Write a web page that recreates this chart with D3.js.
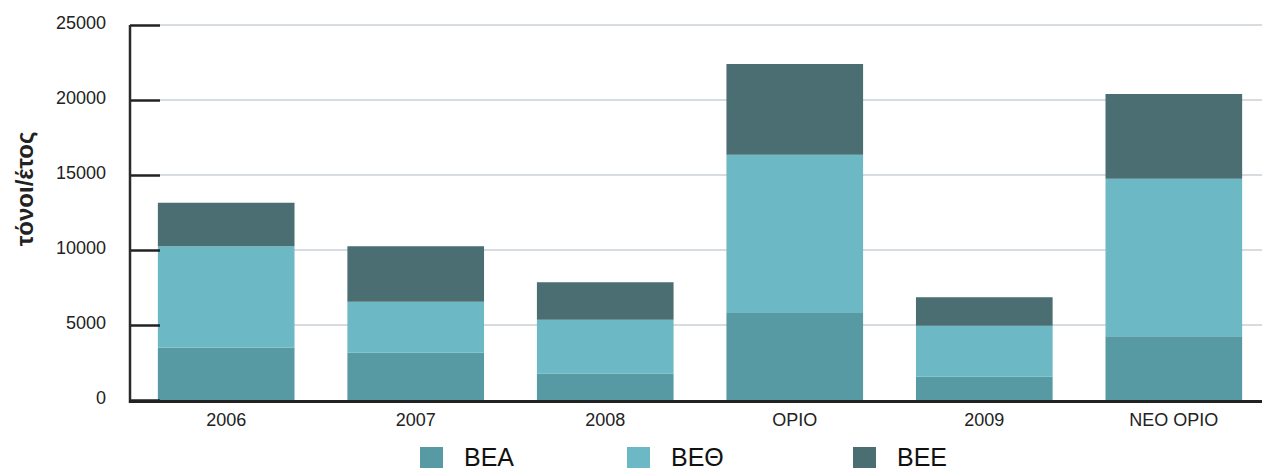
<!DOCTYPE html>
<html>
<head>
<meta charset="utf-8">
<script src="https://cdn.jsdelivr.net/npm/d3@7/dist/d3.min.js"></script>
<style>
  html, body { margin: 0; padding: 0; background: #fff; }
  svg { display: block; font-family: "Liberation Sans", Arial, Helvetica, sans-serif; }
</style>
</head>
<body>
<svg id="chart" width="1262" height="468"></svg>
<script>
'use strict';

/* ── Data ── */
const categories = ['2006', '2007', '2008', 'ΟΡΙΟ', '2009', 'ΝΕΟ ΟΡΙΟ'];
const seriesNames = ['ΒΕΑ', 'ΒΕΘ', 'ΒΕΕ'];
const bea = [3500, 3150, 1750, 5800, 1550, 4250];
const beth = [6750, 3400, 3600, 10550, 3400, 10500];
const bee = [2900, 3700, 2500, 6050, 1900, 5650];
const yTicks = [0, 5000, 10000, 15000, 20000, 25000];
const colors = ['#579aa3', '#6cb9c5', '#4a6e71'];

/* ── Layout ── */
const W = 1262;
const axisX = 130, baseY = 400, topY = 25;

const svg = d3.select('#chart');

const rows = categories.map((c, i) => ({ cat: c, 'ΒΕΑ': bea[i], 'ΒΕΘ': beth[i], 'ΒΕΕ': bee[i] }));
const stacked = d3.stack().keys(seriesNames)(rows);

const x = d3.scaleBand()
  .domain(categories)
  .range([axisX, axisX + 190 * 6])
  .paddingInner(0.279)
  .paddingOuter(0.147);

const y = d3.scaleLinear().domain([0, 25000]).range([baseY, topY]);

/* ── Gridlines ── */
svg.append('g')
  .selectAll('line')
  .data(yTicks.filter(t => t > 0))
  .join('line')
  .attr('x1', axisX + 30).attr('x2', W)
  .attr('y1', d => y(d)).attr('y2', d => y(d))
  .attr('stroke', '#c8d0d4')
  .attr('stroke-width', 1.5);

/* ── Bars ── */
svg.append('g')
  .selectAll('g')
  .data(stacked)
  .join('g')
  .attr('fill', (d, i) => colors[i])
  .selectAll('rect')
  .data(d => d)
  .join('rect')
  .attr('x', d => x(d.data.cat))
  .attr('width', x.bandwidth())
  .attr('y', d => y(d[1]))
  .attr('height', d => y(d[0]) - y(d[1]));

/* ── Y axis ── */
const yAxis = d3.axisRight(y).tickValues(yTicks).tickSize(30).tickFormat('');
const gy = svg.append('g').attr('transform', `translate(${axisX},0)`).call(yAxis);
gy.select('.domain').remove();
gy.selectAll('.tick line').attr('stroke', '#222').attr('stroke-width', 2.5);

svg.append('line')
  .attr('x1', axisX).attr('x2', axisX)
  .attr('y1', topY).attr('y2', baseY + 3)
  .attr('stroke', '#2a2a2a').attr('stroke-width', 2.5);

svg.append('g')
  .selectAll('text')
  .data(yTicks)
  .join('text')
  .attr('x', 106)
  .attr('y', d => y(d) - 1)
  .attr('text-anchor', 'end')
  .attr('dominant-baseline', 'middle')
  .attr('font-size', 18)
  .attr('fill', '#222')
  .text(d => d);

/* ── X axis ── */
svg.append('line')
  .attr('x1', axisX - 1).attr('x2', W)
  .attr('y1', baseY + 1.5).attr('y2', baseY + 1.5)
  .attr('stroke', '#222').attr('stroke-width', 3);

svg.append('g')
  .selectAll('text')
  .data(categories)
  .join('text')
  .attr('x', d => x(d) + x.bandwidth() / 2)
  .attr('y', 426)
  .attr('text-anchor', 'middle')
  .attr('font-size', 18)
  .attr('fill', '#222')
  .text(d => d);

/* ── Y title ── */
svg.append('text')
  .attr('transform', 'translate(33,189) rotate(-90)')
  .attr('text-anchor', 'middle')
  .attr('font-size', 24)
  .attr('font-weight', 'bold')
  .attr('fill', '#222')
  .text('τόνοι/έτος');

/* ── Legend ── */
const legendX = [420, 627, 853];
const legend = svg.append('g')
  .selectAll('g')
  .data(seriesNames)
  .join('g')
  .attr('transform', (d, i) => `translate(${legendX[i]},447)`);

legend.append('rect')
  .attr('width', 23).attr('height', 21)
  .attr('fill', (d, i) => colors[i]);

legend.append('text')
  .attr('x', 44)
  .attr('y', 19)
  .attr('font-size', 25)
  .attr('fill', '#111')
  .text(d => d);
</script>
</body>
</html>
